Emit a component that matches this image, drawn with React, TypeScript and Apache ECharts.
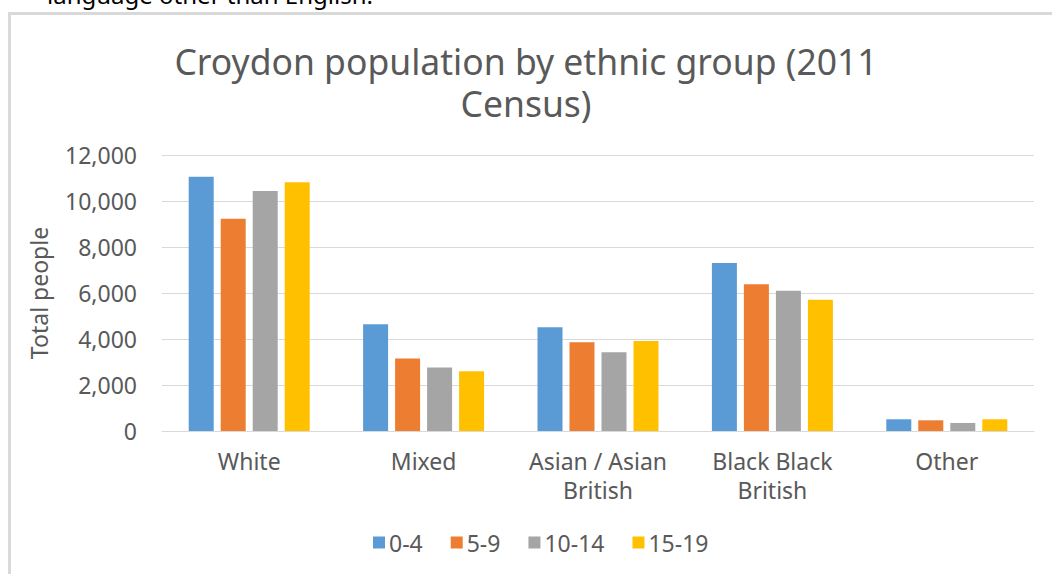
import React, { useEffect, useRef } from "react";
import * as echarts from "echarts";

const categories = ["White", "Mixed", "Asian / Asian\nBritish", "Black Black\nBritish", "Other"];
const seriesNames = ["0-4", "5-9", "10-14", "15-19"];
const age0to4 = [11050, 4640, 4510, 7300, 510];
const age5to9 = [9230, 3150, 3860, 6380, 465];
const age10to14 = [10440, 2760, 3420, 6100, 350];
const age15to19 = [10810, 2600, 3910, 5710, 510];
const colors = ["#5B9BD5", "#ED7D31", "#A5A5A5", "#FFC000"];
const yTicks = { min: 0, max: 12000, interval: 2000 };
const titleLines = ["Croydon population by ethnic group (2011", "Census)"];

const FONT = "'Noto Sans', sans-serif";

export default function App() {
  const ref = useRef<HTMLDivElement>(null);
  useEffect(() => {
    if (!ref.current) return;
    const chart = echarts.init(ref.current, null, { renderer: "svg" });
    const values = [age0to4, age5to9, age10to14, age15to19];
    chart.setOption({
      animation: false,
      backgroundColor: "#ffffff",
      color: colors,
      title: titleLines.map((t, i) => ({
        text: t,
        left: "center",
        top: 40 + i * 42,
        padding: 0,
        textStyle: {
          fontFamily: FONT,
          fontSize: 35.5,
          fontWeight: "normal",
          color: "#595959",
          lineHeight: 42,
        },
      })),
      graphic: [
        { type: "rect", shape: { x: 8, y: 12, width: 3, height: 570 }, style: { fill: "#d9d9d9" } },
        { type: "rect", shape: { x: 8, y: 12, width: 1052, height: 3 }, style: { fill: "#d9d9d9" } },
        {
          type: "text",
          x: 47,
          y: 6,
          style: {
            text: "language other than English.",
            fontFamily: FONT,
            fontSize: 24,
            fill: "#000000",
            verticalAlign: "bottom",
          },
        },
      ],
      legend: {
        bottom: 15,
        left: 368,
        itemWidth: 12,
        itemHeight: 12,
        itemGap: 28,
        icon: "rect",
        textStyle: { fontFamily: FONT, fontSize: 23, color: "#595959", padding: [0, 0, 0, -1] },
        data: seriesNames,
      },
      grid: { left: 162, right: 18, top: 155, bottom: 143, containLabel: false },
      xAxis: {
        type: "category",
        data: categories,
        axisLine: { lineStyle: { color: "#d9d9d9", width: 1 } },
        axisTick: { show: false },
        axisLabel: {
          fontFamily: FONT,
          fontSize: 23,
          color: "#595959",
          margin: 15,
          lineHeight: 29,
          interval: 0,
        },
      },
      yAxis: {
        type: "value",
        min: yTicks.min,
        max: yTicks.max,
        interval: yTicks.interval,
        name: "Total people",
        nameLocation: "middle",
        nameGap: 112,
        nameTextStyle: { fontFamily: FONT, fontSize: 23, color: "#595959" },
        axisLine: { show: false },
        axisTick: { show: false },
        splitLine: { lineStyle: { color: "#d9d9d9", width: 1 } },
        axisLabel: {
          fontFamily: FONT,
          fontSize: 23,
          color: "#595959",
          margin: 25,
          formatter: (v: number) => v.toLocaleString("en-US"),
        },
      },
      series: seriesNames.map((name, i) => ({
        name,
        type: "bar",
        data: values[i],
        barWidth: 25,
        barGap: "28%",
        itemStyle: { color: colors[i] },
      })),
    });
    return () => chart.dispose();
  }, []);
  return (
    <div
      ref={ref}
      style={{ position: "absolute", left: 0, top: 0, width: 1052, height: 574 }}
    />
  );
}
